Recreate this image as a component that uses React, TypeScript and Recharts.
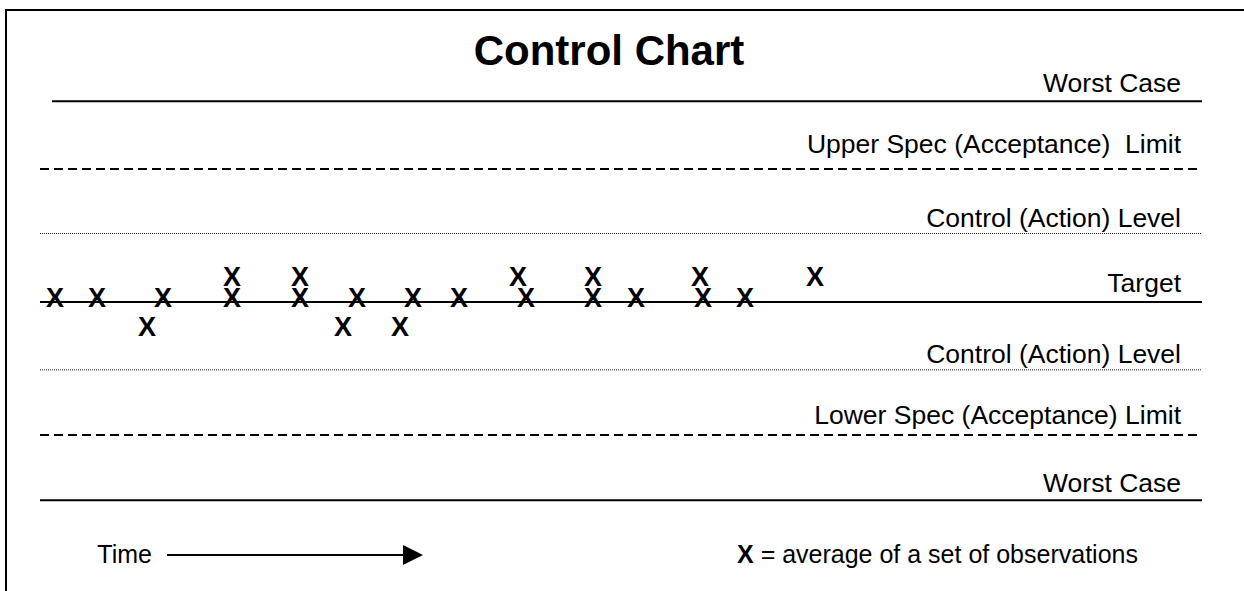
import React from "react";
import { ComposedChart, XAxis, YAxis, ReferenceLine, Scatter } from "recharts";

const FONT = "Arial, 'Liberation Sans', Helvetica, sans-serif";

// time of each averaged observation (arbitrary time units)
const obsTime = [
  1.5, 5.7, 10.7, 12.3, 19.2, 19.2, 26.0, 26.0, 30.3, 31.7, 36.0, 37.3, 41.9,
  47.8, 48.6, 55.3, 55.3, 59.6, 66.0, 66.3, 70.5, 77.5,
];
// deviation from target of each average
const obsValue = [
  0.07, 0.07, -0.36, 0.07, 0.07, 0.38, 0.07, 0.38, -0.36, 0.07, -0.36, 0.07,
  0.07, 0.38, 0.07, 0.38, 0.07, 0.07, 0.38, 0.07, 0.07, 0.38,
];

// horizontal levels, top to bottom
const levelNames = [
  "Worst Case",
  "Upper Spec (Acceptance)  Limit",
  "Control (Action) Level",
  "Target",
  "Control (Action) Level",
  "Lower Spec (Acceptance) Limit",
  "Worst Case",
];
const levelValues = [3.02, 2.0, 1.03, 0, -1.02, -2.0, -2.98];

const timeDomain = [0, 116.2];
const valueDomain = [-3.2, 3.2];

// line styles per level
const lineStyles = [
  { w: 2, dash: undefined, color: "#000" },
  { w: 2, dash: "9 5", color: "#000" },
  { w: 1, dash: "1 1", color: "#222" },
  { w: 2, dash: undefined, color: "#000" },
  { w: 1, dash: "1 1", color: "#222" },
  { w: 2, dash: "9 5", color: "#000" },
  { w: 2, dash: undefined, color: "#000" },
];
const labelLift = [9, 16, 7, 10, 7, 11, 8];

const points = obsTime.map((t, i) => ({ t, v: obsValue[i] }));

const XMark = (p: any) => (
  <text
    x={p.cx}
    y={p.cy + 9.7}
    textAnchor="middle"
    fontWeight="bold"
    fontSize={27}
    fontFamily={FONT}
    fill="#000"
  >
    X
  </text>
);

const levelLabel = (text: string, lift: number) => (props: any) => {
  const vb = props.viewBox || {};
  const right = (vb.x || 0) + (vb.width || 0) - 21;
  return (
    <text
      x={right}
      y={(vb.y || 0) - lift}
      textAnchor="end"
      fontSize={26.5}
      fontFamily={FONT}
      fill="#000"
      style={{ whiteSpace: "pre" }}
    >
      {text}
    </text>
  );
};

export default function App() {
  return (
    <div
      style={{
        position: "absolute",
        left: 0,
        top: 0,
        width: 1244,
        height: 591,
        overflow: "hidden",
        background: "#fff",
      }}
    >
      {/* frame: left and top edges only */}
      <div
        style={{
          position: "absolute",
          left: 5,
          top: 9,
          width: 1239,
          height: 582,
          borderLeft: "2px solid #000",
          borderTop: "2px solid #000",
        }}
      />
      <div style={{ position: "absolute", left: 0, top: 0 }}>
        <ComposedChart
          width={1244}
          height={591}
          data={points}
          margin={{ top: 89.2, right: 42, bottom: 76.2, left: 40 }}
        >
          <XAxis type="number" dataKey="t" domain={timeDomain} hide />
          <YAxis type="number" dataKey="v" domain={valueDomain} hide />
          {levelValues.map((v, i) => {
            const s = lineStyles[i];
            const common = {
              stroke: s.color,
              strokeWidth: s.w,
              strokeDasharray: s.dash,
              label: levelLabel(levelNames[i], labelLift[i]),
            };
            return i === 0 ? (
              <ReferenceLine
                key={i}
                segment={[
                  { x: 1.2, y: v },
                  { x: timeDomain[1], y: v },
                ]}
                {...common}
              />
            ) : (
              <ReferenceLine key={i} y={v} {...common} />
            );
          })}
          <Scatter
            data={points}
            dataKey="v"
            shape={XMark}
            isAnimationActive={false}
          />
        </ComposedChart>
      </div>
      {/* title and legend */}
      <svg
        width={1244}
        height={591}
        style={{ position: "absolute", left: 0, top: 0, pointerEvents: "none" }}
      >
        <text
          x={609}
          y={65}
          textAnchor="middle"
          fontSize={42}
          fontWeight="bold"
          fontFamily={FONT}
        >
          Control Chart
        </text>
        <text x={152} y={563} textAnchor="end" fontSize={25} fontFamily={FONT}>
          Time
        </text>
        <line x1={167} y1={555} x2={405} y2={555} stroke="#000" strokeWidth={2} />
        <polygon points="403,545 423,555 403,565" fill="#000" />
        <text x={737} y={563} fontSize={25} fontFamily={FONT} style={{ whiteSpace: "pre" }}>
          <tspan fontWeight="bold">X</tspan>
          <tspan> = average of a set of observations</tspan>
        </text>
      </svg>
    </div>
  );
}
